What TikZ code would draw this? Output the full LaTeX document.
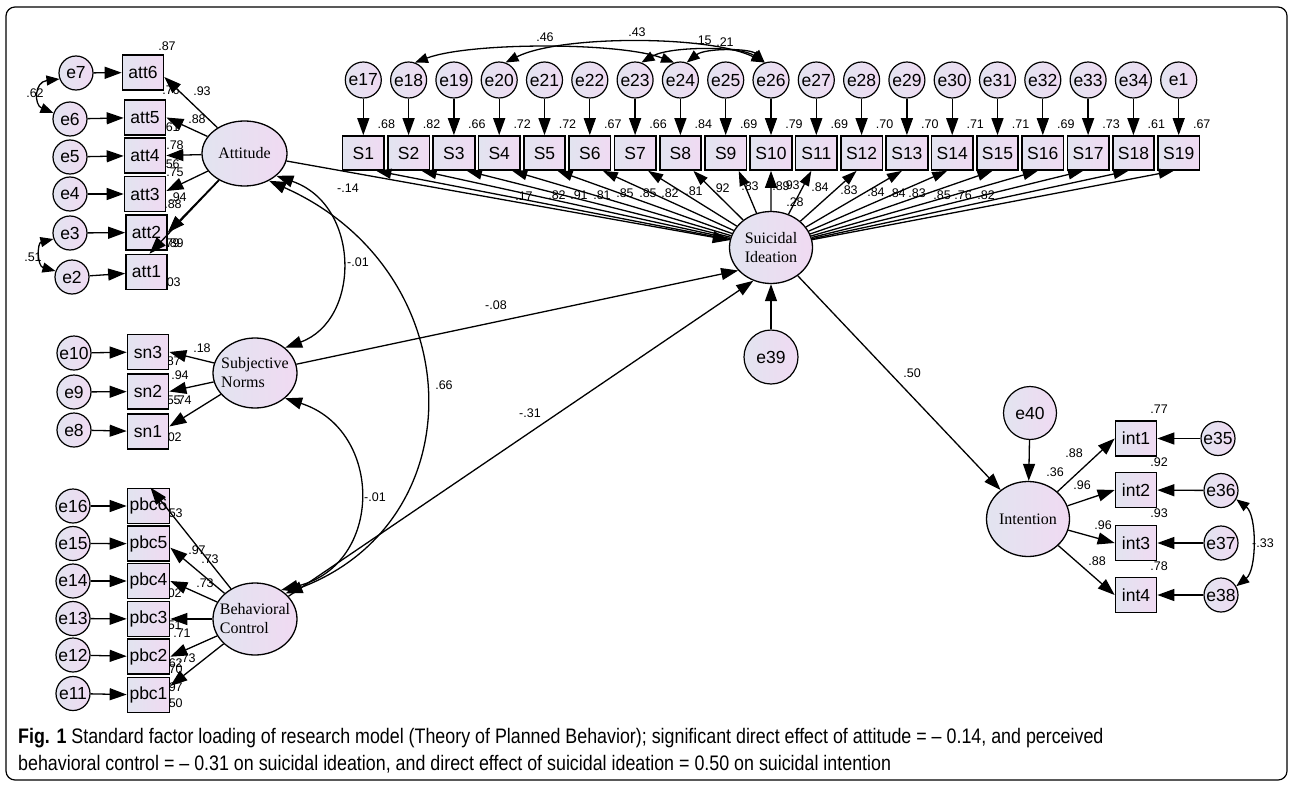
\documentclass[tikz,border=0pt]{standalone}
\usepackage{fontspec}
\setmainfont{Liberation Serif}
\newfontfamily\sansf{Liberation Sans}
\newfontfamily\capf[FakeStretch=0.85]{Liberation Sans}
\usetikzlibrary{arrows.meta,shapes.geometric,calc}
\definecolor{lavA}{RGB}{226,228,240}
\definecolor{lavB}{RGB}{240,218,242}
\newcommand\fE{\sansf\fontsize{17.5}{20}\selectfont}
\newcommand\fL{\sansf\fontsize{12.5}{14}\selectfont}
\newcommand\fT{\fontsize{16}{19}\selectfont}
\newcommand\fC{\capf\fontsize{21}{24}\selectfont}
\newcommand\Lb[3]{\node[lb] (#1) at (#2) {#3};}
\begin{document}
\begin{tikzpicture}[x=1pt,y=-1pt,
  >={Triangle[length=17pt,width=12pt]},
  shd/.style={left color=lavA, right color=lavB},
  ev/.style={circle, draw, line width=1.2pt, minimum size=34pt, inner sep=0pt, font=\fE, shd},
  evt/.style={ev, minimum size=36pt},
  evb/.style={ev, minimum size=54pt},
  ob/.style={rectangle, draw, line width=1.7pt, minimum width=41pt, minimum height=35pt, inner sep=0pt, font=\fE, shd},
  lt/.style={ellipse, draw, line width=1.3pt, inner sep=0pt, shd},
  ltx/.style={font=\fT, align=left, inner sep=0pt},
  pth/.style={line width=1.3pt, ->},
  cv/.style={line width=1.3pt, <->},
  cvs/.style={line width=1.3pt, {Triangle[length=13pt,width=10pt]}-{Triangle[length=13pt,width=10pt]}},
  lb/.style={font=\fL, inner sep=0pt}]
\useasboundingbox (0,0) rectangle (1292,784);
\draw[line width=1.2pt, rounded corners=9pt] (6,7) rectangle (1287,780);

% ---------- labels (drawn first, partly covered) ----------
\Lb{a1}{167,46}{.87}
\Lb{a2}{171,90}{.76}
\Lb{a3}{202,91}{.93}
\Lb{a4}{197,119}{.88}
\Lb{a5}{171,127}{.61}
\Lb{a6}{175,145}{.78}
\Lb{a7}{171,164}{.56}
\Lb{a8}{175,172}{.75}
\Lb{a9}{178,197}{.94}
\Lb{a10}{173,204}{.88}
\Lb{a11}{171,243}{.79}
\Lb{a12}{175,243}{.89}
\Lb{a13}{172,282}{.03}
\Lb{a14}{35,93}{.62}
\Lb{a15}{33,257}{.51}
\Lb{s1}{202,348}{.18}
\Lb{s2}{172,361}{.87}
\Lb{s3}{180,375}{.94}
\Lb{s4}{172,400}{.55}
\Lb{s5}{183,400}{.74}
\Lb{s6}{173,437}{.02}
\Lb{b1}{174,513}{.53}
\Lb{b2}{197,550}{.97}
\Lb{b3}{210,559}{.73}
\Lb{b4}{205,583}{.73}
\Lb{b5}{173,593}{.02}
\Lb{b6}{173,625}{.51}
\Lb{b7}{182,633}{.71}
\Lb{b8}{174,663}{.62}
\Lb{b9}{187,658}{.73}
\Lb{b10}{174,669}{.70}
\Lb{b11}{174,687}{.97}
\Lb{b12}{174,703}{.50}
\Lb{p1}{348,188}{-.14}
\Lb{p2}{358,262}{-.01}
\Lb{p3}{496,305}{-.08}
\Lb{p4}{444,385}{.66}
\Lb{p5}{530,413}{-.31}
\Lb{p6}{375,497}{-.01}
\Lb{p7}{912,373}{.50}
\Lb{p8}{795,202}{.28}
\Lb{c1}{545,37}{.46}
\Lb{c2}{637,32}{.43}
\Lb{c3}{703,40}{.15}
\Lb{c4}{725,42}{.21}
\Lb{i1}{1159,409}{.77}
\Lb{i2}{1074,453}{.88}
\Lb{i3}{1055,472}{.36}
\Lb{i4}{1159,462}{.92}
\Lb{i5}{1082,485}{.96}
\Lb{i6}{1159,513}{.93}
\Lb{i7}{1103,525}{.96}
\Lb{i8}{1159,566}{.78}
\Lb{i9}{1097,561}{.88}
\Lb{i10}{1263,543}{-.33}
% loadings of suicidal ideation
\foreach \x/\y/\v [count=\n] in {524/196/.17,557/195/.82,579/195/.91,602/195/.81,625/193.5/.85,648/193/.85,670/193/.82,694/191/.81,721/188.5/.92,750/186/.83,781/186/.89,791/185.5/.93,820/187/.84,849/190/.83,876/192/.84,897/193/.84,917/193.5/.83,942/195/.85,963/195/.76,986/195/.82}
  {\node[lb] (ld\n) at (\x,\y) {\v};}
% R-square of items
\foreach \v [count=\k from 0] in {.68,.82,.66,.72,.72,.67,.66,.84,.69,.79,.69,.70,.70,.71,.71,.69,.73,.61,.67}
  {\node[lb] (rs\k) at ({386.3+\k*45.3},124) {\v};}

% ---------- attitude block ----------
\node[ev] (e7) at (76,73) {e7};
\node[ev] (e6) at (70,119) {e6};
\node[ev] (e5) at (70,157) {e5};
\node[ev] (e4) at (70,194) {e4};
\node[ev] (e3) at (70,233) {e3};
\node[ev] (e2) at (72,277) {e2};
\node[ob] (att6) at (143,72.5) {att6};
\node[ob] (att5) at (145,117.5) {att5};
\node[ob] (att4) at (145,155.5) {att4};
\node[ob] (att3) at (145,194) {att3};
\node[ob] (att2) at (146.5,232.5) {att2};
\node[ob] (att1) at (146.5,272) {att1};
\node[lt, minimum width=85pt, minimum height=65pt] (Att) at (244.5,153.5) {};
\node[ltx] (Attt) at (Att) {Attitude};

% ---------- subjective norms block ----------
\node[ev] (e10) at (74,353) {e10};
\node[ev] (e9) at (74,392) {e9};
\node[ev] (e8) at (74,430) {e8};
\node[ob] (sn3) at (148,352) {sn3};
\node[ob] (sn2) at (148,391.5) {sn2};
\node[ob] (sn1) at (148,431.5) {sn1};
\node[lt, minimum width=84pt, minimum height=70pt] (SN) at (255,373) {};
\node[ltx] (SNt) at (SN) {Subjective\\Norms};

% ---------- behavioral control block ----------
\node[ev] (e16) at (73,506) {e16};
\node[ev] (e15) at (73,543.5) {e15};
\node[ev] (e14) at (73,581) {e14};
\node[ev] (e13) at (73,618.5) {e13};
\node[ev] (e12) at (73,655) {e12};
\node[ev] (e11) at (73,693.5) {e11};
\node[ob, minimum width=42pt] (pbc6) at (148.5,506) {pbc6};
\node[ob, minimum width=42pt] (pbc5) at (148.5,543.7) {pbc5};
\node[ob, minimum width=42pt] (pbc4) at (148.5,581) {pbc4};
\node[ob, minimum width=42pt] (pbc3) at (148.5,619) {pbc3};
\node[ob, minimum width=42pt] (pbc2) at (148.5,656.7) {pbc2};
\node[ob, minimum width=42pt] (pbc1) at (148.5,695) {pbc1};
\node[lt, minimum width=84pt, minimum height=72pt] (BC) at (255,619) {};
\node[ltx] (BCt) at (BC) {Behavioral\\Control};

% ---------- suicidal ideation ----------
\foreach \i/\en [count=\k from 0] in {1/17,2/18,3/19,4/20,5/21,6/22,7/23,8/24,9/25,10/26,11/27,12/28,13/29,14/30,15/31,16/32,17/33,18/34,19/1}
{
  \node[evt] (e\en) at ({363.3+\k*45.3},80) {e\en};
  \node[ob, minimum width=41.5pt, minimum height=34pt] (S\i) at ({363.3+\k*45.3},153) {S\i};
  \draw[pth] (e\en) -- (S\i);
}
\node[lt, minimum width=83pt, minimum height=72pt] (SI) at (771,247.5) {};
\node[ltx, align=center] (SIt) at (SI) {Suicidal\\Ideation};
\node[evb] (e39) at (771,357) {e39};

% ---------- intention ----------
\node[lt, minimum width=83pt, minimum height=75pt] (Int) at (1028,519) {};
\node[ltx] (Intt) at (Int) {Intention};
\node[evb, minimum size=53pt] (e40) at (1030,413) {e40};
\node[ob] (int1) at (1136,438.5) {int1};
\node[ob] (int2) at (1136,490) {int2};
\node[ob] (int3) at (1136,543) {int3};
\node[ob] (int4) at (1136,595) {int4};
\node[ev] (e35) at (1218,438.5) {e35};
\node[ev] (e36) at (1221,490.5) {e36};
\node[ev] (e37) at (1221,543) {e37};
\node[ev] (e38) at (1221,595) {e38};

% ---------- error to indicator arrows ----------
\foreach \a/\b in {e7/att6,e6/att5,e5/att4,e4/att3,e3/att2,e2/att1,e10/sn3,e9/sn2,e8/sn1,e16/pbc6,e15/pbc5,e14/pbc4,e13/pbc3,e12/pbc2,e11/pbc1,e35/int1,e36/int2,e37/int3,e38/int4}
  {\draw[pth] (\a) -- (\b);}

% ---------- loadings ----------
\draw[pth] (Att) -- ($(att6.east)+(0,4.5)$);
\draw[pth] (Att) -- (att5.east);
\draw[pth] (Att) -- (att4.east);
\draw[pth] (Att) -- ($(att3.east)+(0,-3)$);
\draw[pth] (Att) -- (att2.east);
\draw[pth] (Att) -- ($(att1.north)+(3,0)$);
\draw[pth] (SN) -- (sn3.east);
\draw[pth] (SN) -- (sn2.east);
\draw[pth] (SN) -- ($(sn1.east)+(0,-5)$);
\draw[pth] (BC) -- ($(pbc6.north)+(2,0)$);
\draw[pth] (BC) -- ($(pbc5.east)+(0,4)$);
\draw[pth] (BC) -- (pbc4.east);
\draw[pth] (BC) -- (pbc3.east);
\draw[pth] (BC) -- (pbc2.east);
\draw[pth] (BC) -- ($(pbc1.east)+(0,-9)$);
\foreach \i in {1,...,9} {\draw[pth, >={Triangle[length=15pt,width=10pt]}] (SI) -- ($(S\i.south)+(13,0)$);}
\draw[pth] (SI) -- (S10);
\foreach \i in {11,...,19} {\draw[pth, >={Triangle[length=15pt,width=10pt]}] (SI) -- ($(S\i.south)+(-5,0)$);}
\foreach \i in {1,...,4} {\draw[pth] (Int) -- (int\i.west);}

% ---------- structural paths ----------
\draw[pth] (Att) -- (SI);
\draw[pth] (SN) -- (SI.215);
\draw[pth] (BC) -- (SI.242);
\draw[pth] (e39) -- (SI);
\draw[pth] (SI) -- (Int);
\draw[pth] (e40) -- (Int);

% ---------- covariances ----------
\draw[cv] (Att.-35) .. controls (361,205) and (361,320) .. (SN.40);
\draw[cv] (Att.-48) .. controls (470,270) and (478,520) .. (BC.40);
\draw[cv] (SN.-40) .. controls (384,430) and (384,565) .. (BC.48);
\draw[cvs] (e7.200) .. controls (34,82) and (34,105) .. (e6.160);
\draw[cvs] (e3.200) .. controls (37,243) and (37,266) .. (e2.160);
\draw[cvs] (e36.-30) .. controls (1257,515) and (1257,570) .. (e38.30);
\draw[cvs] (e18.70) .. controls (470,42) and (620,42) .. (e24.110);
\draw[cvs] (e20.70) .. controls (560,35) and (710,35) .. (e26.110);
\draw[cvs] (e23.70) .. controls (670,46) and (740,46) .. (e26.110);
\draw[cvs] (e24.70) .. controls (705,48) and (750,48) .. (e26.110);

% ---------- caption ----------
\node[anchor=west, inner sep=0pt, font=\fC] (cap1) at (18,738) {\textbf{Fig. 1} Standard factor loading of research model (Theory of Planned Behavior); significant direct effect of attitude = – 0.14, and perceived};
\node[anchor=west, inner sep=0pt, font=\fC] (cap2) at (18,764) {behavioral control = – 0.31 on suicidal ideation, and direct effect of suicidal ideation = 0.50 on suicidal intention};
\end{tikzpicture}
\end{document}
